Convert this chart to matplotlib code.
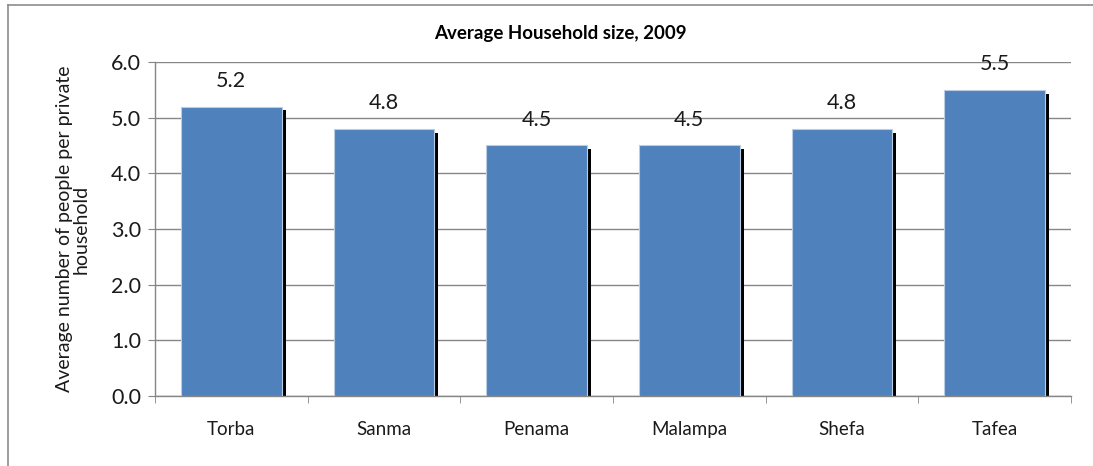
import matplotlib
matplotlib.use("Agg")
import matplotlib.pyplot as plt
from matplotlib.lines import Line2D

categories = ["Torba", "Sanma", "Penama", "Malampa", "Shefa", "Tafea"]
values = [5.2, 4.8, 4.5, 4.5, 4.8, 5.5]
value_labels = ["5.2", "4.8", "4.5", "4.5", "4.8", "5.5"]
yticks = [0.0, 1.0, 2.0, 3.0, 4.0, 5.0, 6.0]

plt.rcParams['font.family'] = ['Lato', 'DejaVu Sans']

W, H = 1093, 466
fig = plt.figure(figsize=(W / 100, H / 100), dpi=100)
ax = fig.add_axes([155 / W, 1 - 396 / H, (1071 - 155) / W, (396 - 62) / H])

x = list(range(len(categories)))
bw = 0.66
sw = 0.026
# shadow bars
ax.bar([i + bw / 2 + sw / 2 for i in x], [v - 0.07 for v in values], width=sw,
       color="black", zorder=2)
ax.bar(x, values, width=bw, color="#4F81BD", edgecolor="#B9CDE5", linewidth=0.8, zorder=3)

for i, v, lab in zip(x, values, value_labels):
    ax.annotate(lab, (i, v), xytext=(0, 18.5), textcoords="offset points",
                ha="center", va="center", fontsize=15.5, color="#1a1a1a")

ax.set_xlim(-0.5, len(categories) - 0.5)
ax.set_ylim(0, 6)
ax.set_yticks(yticks)
ax.set_yticklabels([f"{t:.1f}" for t in yticks], fontsize=15.5, color="#1a1a1a")
ax.set_xticks(x)
ax.set_xticklabels(categories, fontsize=13.5, color="#1a1a1a")
ax.tick_params(axis="x", which="major", length=0, pad=18)
ax.set_xticks([i - 0.5 for i in range(len(categories) + 1)], minor=True)
ax.tick_params(axis="x", which="minor", length=5, color="#868686", direction="out")
ax.tick_params(axis="y", length=5, color="#868686", direction="out", pad=5)

ax.yaxis.grid(True, color="#868686", linewidth=1)
ax.set_axisbelow(True)
for s in ["top", "right"]:
    ax.spines[s].set_visible(False)
for s in ["left", "bottom"]:
    ax.spines[s].set_color("#868686")
    ax.spines[s].set_linewidth(1)

fig.text(560 / W, 1 - 33 / H, "Average Household size, 2009", ha="center", va="center",
         fontsize=13.5, fontweight="bold")
fig.text(73 / W, 1 - 229 / H, "Average number of people per private\nhousehold",
         rotation=90, ha="center", va="center", fontsize=14, multialignment="center",
         linespacing=1.0, color="#1a1a1a")

# outer chart border (cropped)
fig.add_artist(Line2D([8 / W, 1.0], [1 - 5 / H, 1 - 5 / H], transform=fig.transFigure,
                      color="#8C8C8C", linewidth=1.2))
fig.add_artist(Line2D([8 / W, 8 / W], [0, 1 - 5 / H], transform=fig.transFigure,
                      color="#8C8C8C", linewidth=1.2))

fig.savefig("out.png", dpi=100)
